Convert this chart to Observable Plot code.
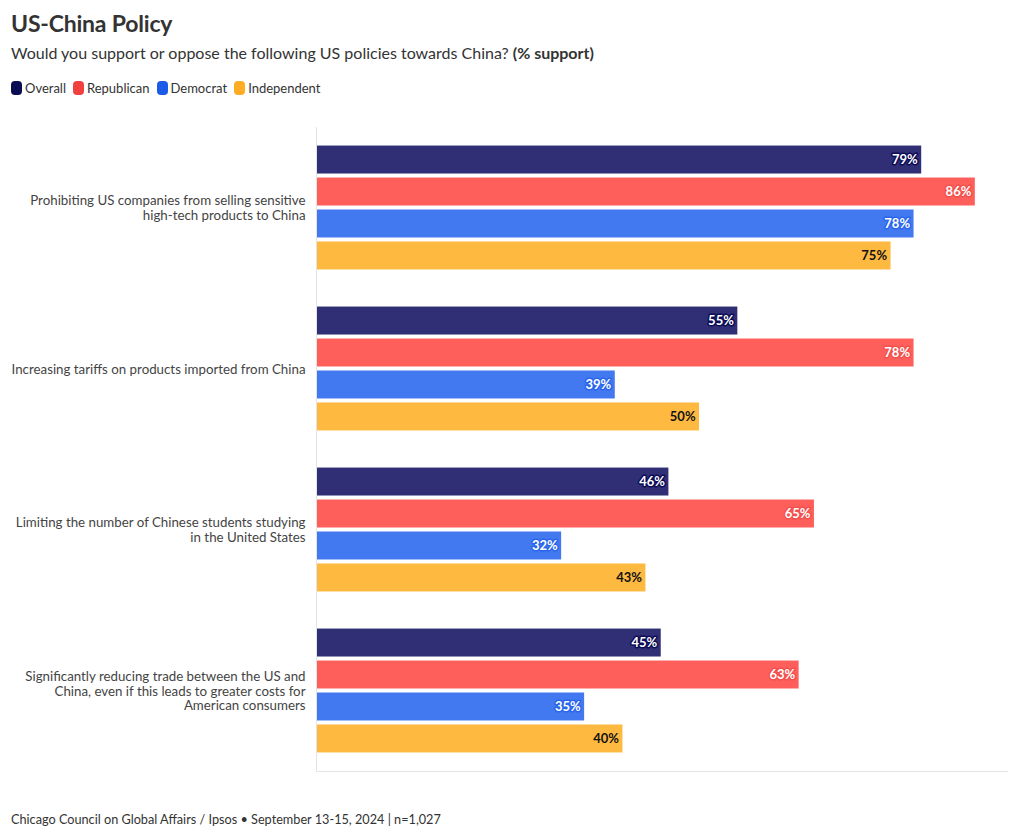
<!DOCTYPE html>
<html>
<head>
<meta charset="utf-8">
<script src="https://cdn.jsdelivr.net/npm/d3@7"></script>
<script src="https://cdn.jsdelivr.net/npm/@observablehq/plot@0.6"></script>
<style>
  body { margin: 0; background: #fff; font-family: "Source Sans Pro", Lato, "Open Sans", sans-serif; color: #333; }
  #wrap { width: 1020px; height: 839px; position: relative; }
  #title { position: absolute; left: 11px; top: 9px; font-size: 23px; font-weight: 700; color: #333; letter-spacing: -0.2px; }
  #subtitle { position: absolute; left: 11px; top: 43px; font-size: 16px; color: #333; }
  #legend { position: absolute; left: 11px; top: 80px; font-size: 13px; color: #333; display: flex; gap: 7px; align-items: center; }
  #legend .it { display: flex; align-items: center; gap: 3px; }
  #legend .sw { width: 11px; height: 14px; border-radius: 4px; display: inline-block; }
  #chart { position: absolute; left: 0; top: 110px; }
  #caption { position: absolute; left: 11px; top: 811px; font-size: 12.7px; color: #333; }
</style>
</head>
<body>
<div id="wrap">
  <div id="title">US-China Policy</div>
  <div id="subtitle">Would you support or oppose the following US policies towards China? <b>(% support)</b></div>
  <div id="legend"></div>
  <div id="chart"></div>
  <div id="caption">Chicago Council on Global Affairs / Ipsos • September 13-15, 2024 | n=1,027</div>
</div>
<script>
const questions = [
  "Prohibiting US companies from selling sensitive\nhigh-tech products to China",
  "Increasing tariffs on products imported from China",
  "Limiting the number of Chinese students studying\nin the United States",
  "Significantly reducing trade between the US and\nChina, even if this leads to greater costs for\nAmerican consumers"
];
const parties = ["Overall", "Republican", "Democrat", "Independent"];
const overall     = [79, 55, 46, 45];
const republican  = [86, 78, 65, 63];
const democrat    = [78, 39, 32, 35];
const independent = [75, 50, 43, 40];

const swatchColors = ["#0c0c55", "#f2403f", "#1a5ce8", "#fdac23"];
const barColors    = ["#302e74", "#fe5f5b", "#4278f0", "#feb941"];
const labelFill    = ["#ffffff", "#ffffff", "#ffffff", "#111111"];
const labelHalo    = ["#0c0c55", "#f2514e", "#2a66ec", "#feb941"];

const series = [overall, republican, democrat, independent];
const data = [];
questions.forEach((q, i) => {
  parties.forEach((p, j) => data.push({question: q, party: p, value: series[j][i]}));
});

// legend
const leg = document.getElementById("legend");
parties.forEach((p, j) => {
  const it = document.createElement("span");
  it.className = "it";
  it.innerHTML = `<span class="sw" style="background:${swatchColors[j]}"></span><span>${p}</span>`;
  leg.appendChild(it);
});

const chart = Plot.plot({
  width: 1020,
  height: 671,
  marginLeft: 316,
  marginRight: 13,
  marginTop: 17,
  marginBottom: 10,
  style: {fontFamily: "'Source Sans Pro', Lato, 'Open Sans', sans-serif", fontSize: "13px", color: "#444"},
  x: {domain: [0, 90.2], axis: null},
  fy: {domain: questions, padding: 0, label: null},
  y: {domain: parties, paddingInner: 0.125, paddingOuter: 0.58, round: false, axis: null},
  color: {domain: parties, range: barColors},
  marks: [
    Plot.axisFy({anchor: "left", tickSize: 0, tickPadding: 11, label: null, fontSize: 13.3, fill: "#444", lineHeight: 1.1}),
    Plot.barX(data, {fy: "question", y: "party", x: "value", fill: "party"}),
    Plot.text(data, {
      fy: "question", y: "party", x: "value",
      text: d => d.value + "%",
      textAnchor: "end", dx: -4,
      fill: d => labelFill[parties.indexOf(d.party)],
      stroke: d => labelHalo[parties.indexOf(d.party)],
      strokeWidth: 3,
      fontWeight: 700, fontSize: 13
    }),
    Plot.frame({anchor: "left", stroke: "#e4e4e4", facet: "super"}),
    Plot.frame({anchor: "bottom", stroke: "#e4e4e4", facet: "super"})
  ]
});
document.getElementById("chart").appendChild(chart);
</script>
</body>
</html>
